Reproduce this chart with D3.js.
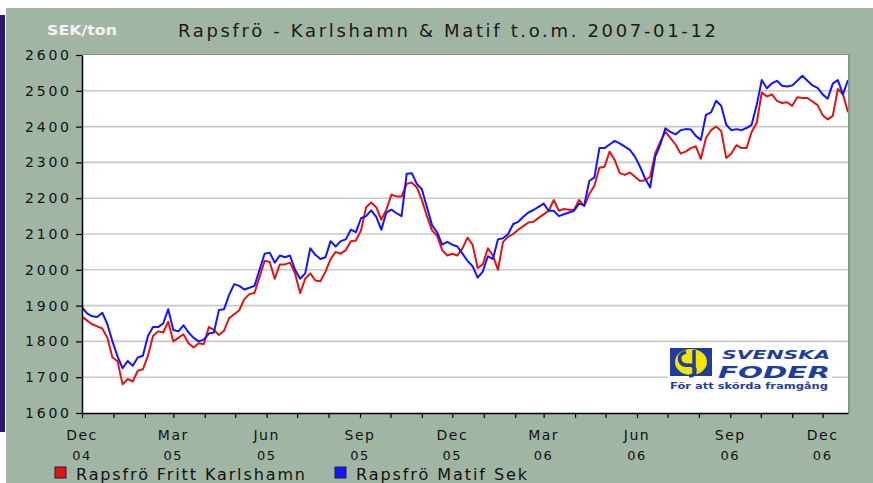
<!DOCTYPE html>
<html><head><meta charset="utf-8">
<script src="https://cdn.jsdelivr.net/npm/d3@7"></script>
<style>html,body{margin:0;padding:0;background:#fff;}svg{display:block;}</style>
</head><body>
<svg id="chart" width="873" height="483"></svg>
<script>
const titleText = "Rapsfrö - Karlshamn & Matif t.o.m. 2007-01-12";
const unitText = "SEK/ton";
const seriesNames = ["Rapsfrö Fritt Karlshamn", "Rapsfrö Matif Sek"];
const yTicks = [1600,1700,1800,1900,2000,2100,2200,2300,2400,2500,2600];
const dates = [
"2004-12-01","2004-12-06","2004-12-11","2004-12-16","2004-12-21","2004-12-26","2004-12-31",
"2005-01-05","2005-01-10","2005-01-15","2005-01-20","2005-01-25","2005-01-30",
"2005-02-04","2005-02-09","2005-02-14","2005-02-19","2005-02-24",
"2005-03-01","2005-03-06","2005-03-11","2005-03-16","2005-03-21","2005-03-26","2005-03-31",
"2005-04-05","2005-04-10","2005-04-15","2005-04-20","2005-04-25","2005-04-30",
"2005-05-05","2005-05-10","2005-05-15","2005-05-20","2005-05-25","2005-05-30",
"2005-06-04","2005-06-09","2005-06-14","2005-06-19","2005-06-24","2005-06-29",
"2005-07-04","2005-07-09","2005-07-14","2005-07-19","2005-07-24","2005-07-29",
"2005-08-03","2005-08-08","2005-08-13","2005-08-18","2005-08-23","2005-08-28",
"2005-09-02","2005-09-07","2005-09-12","2005-09-17","2005-09-22","2005-09-27",
"2005-10-02","2005-10-07","2005-10-12","2005-10-17","2005-10-22","2005-10-27",
"2005-11-01","2005-11-06","2005-11-11","2005-11-16","2005-11-21","2005-11-26",
"2005-12-01","2005-12-06","2005-12-11","2005-12-16","2005-12-21","2005-12-26","2005-12-31",
"2006-01-05","2006-01-10","2006-01-15","2006-01-20","2006-01-25","2006-01-30",
"2006-02-04","2006-02-09","2006-02-14","2006-02-19","2006-02-24",
"2006-03-01","2006-03-06","2006-03-11","2006-03-16","2006-03-21","2006-03-26","2006-03-31",
"2006-04-05","2006-04-10","2006-04-15","2006-04-20","2006-04-25","2006-04-30",
"2006-05-05","2006-05-10","2006-05-15","2006-05-20","2006-05-25","2006-05-30",
"2006-06-04","2006-06-09","2006-06-14","2006-06-19","2006-06-24","2006-06-29",
"2006-07-04","2006-07-09","2006-07-14","2006-07-19","2006-07-24","2006-07-29",
"2006-08-03","2006-08-08","2006-08-13","2006-08-18","2006-08-23","2006-08-28",
"2006-09-02","2006-09-07","2006-09-12","2006-09-17","2006-09-22","2006-09-27",
"2006-10-02","2006-10-07","2006-10-12","2006-10-17","2006-10-22","2006-10-27",
"2006-11-01","2006-11-06","2006-11-11","2006-11-16","2006-11-21","2006-11-26",
"2006-12-01","2006-12-06","2006-12-11","2006-12-16","2006-12-21","2006-12-26"
];
const karlshamn = [
1870,1858,1848,1842,1836,1810,1755,1745,1680,1695,
1688,1718,1722,1760,1815,1828,1825,1855,1800,1810,
1820,1795,1783,1795,1792,1840,1832,1818,1830,1865,
1876,1887,1918,1932,1935,1980,2025,2022,1975,2015,
2015,2020,1990,1935,1975,1990,1970,1968,1995,2030,
2050,2045,2055,2080,2082,2110,2175,2188,2175,2140,
2168,2210,2205,2205,2240,2244,2230,2195,2150,2110,
2095,2055,2040,2045,2040,2060,2090,2070,2005,2015,
2060,2040,2000,2078,2092,2100,2112,2122,2132,2134,
2145,2155,2165,2195,2165,2170,2168,2168,2195,2178,
2212,2235,2285,2288,2330,2307,2270,2265,2272,2260,
2248,2250,2260,2325,2358,2386,2368,2350,2325,2330,
2340,2345,2310,2368,2390,2400,2388,2312,2325,2348,
2340,2340,2385,2410,2495,2484,2490,2472,2466,2468,
2458,2482,2480,2480,2470,2460,2432,2420,2430,2505,
2490,2440
];
const matif = [
1895,1878,1870,1868,1880,1848,1800,1758,1725,1745,
1732,1755,1760,1815,1840,1840,1850,1890,1832,1828,
1845,1825,1810,1800,1805,1822,1825,1888,1890,1930,
1960,1955,1945,1950,1955,2000,2045,2048,2020,2040,
2035,2040,2000,1975,1990,2060,2042,2030,2035,2080,
2065,2080,2085,2112,2105,2144,2150,2166,2148,2112,
2160,2168,2158,2150,2268,2270,2240,2225,2175,2125,
2105,2070,2078,2070,2065,2045,2025,2010,1978,1995,
2038,2030,2085,2088,2100,2128,2134,2148,2160,2167,
2176,2185,2165,2165,2150,2155,2160,2165,2185,2180,
2248,2258,2340,2340,2350,2360,2353,2344,2335,2316,
2288,2255,2230,2316,2350,2395,2385,2378,2390,2393,
2392,2374,2363,2433,2440,2472,2458,2405,2390,2393,
2390,2396,2405,2460,2530,2507,2521,2528,2514,2512,
2515,2528,2542,2528,2515,2508,2490,2478,2520,2530,
2490,2530
];
const colors = ["#e01414", "#1414ff"];

const svg = d3.select("#chart");
const font = "'DejaVu Sans', Verdana, sans-serif";
const L = 82, R = 848, T = 55, B = 413;
const parse = d3.timeParse("%Y-%m-%d");
const xDates = dates.map(parse);

// background panel
svg.append("rect").attr("x",0).attr("y",0).attr("width",873).attr("height",483).attr("fill","#ffffff");
svg.append("rect").attr("x",6).attr("y",8).attr("width",867).attr("height",475).attr("fill","#a1b5a5");
svg.append("rect").attr("x",0).attr("y",15).attr("width",5).attr("height",417).attr("fill","#2c176f");

const x = d3.scaleTime().domain([parse("2004-12-01"), parse("2006-12-26")]).range([L, R]);
const y = d3.scaleLinear().domain([1600, 2600]).range([B, T]);

// plot background with shadow border
svg.append("rect").attr("x",L).attr("y",T-1).attr("width",R-L+2).attr("height",B-T+1).attr("fill","#8a948c");
svg.append("rect").attr("x",L).attr("y",T).attr("width",R-L).attr("height",B-T).attr("fill","#ffffff");

// grid
svg.append("g").selectAll("line").data(yTicks.filter(v => v > 1600 && v < 2600)).join("line")
  .attr("x1",L).attr("x2",R).attr("y1",d=>y(d)).attr("y2",d=>y(d))
  .attr("stroke","#c8c8c8").attr("stroke-width",1.6);

// logo
const logo = svg.append("g");
logo.append("rect").attr("x",668).attr("y",344).attr("width",164).attr("height",48).attr("fill","#ffffff");
logo.append("rect").attr("x",670).attr("y",348).attr("width",42).attr("height",28).attr("fill","#1f3d9e");
logo.append("ellipse").attr("cx",691).attr("cy",362).attr("rx",16).attr("ry",13).attr("fill","#f2e600");
logo.append("path").attr("d","M686,352 q-8,2 -6,9 q2,5 9,4 q6,0 6,6 q0,5 -6,5 M694,350 v26")
  .attr("fill","none").attr("stroke","#1f3d9e").attr("stroke-width",3.5);
logo.append("text").attr("x",722).attr("y",359).attr("textLength",108).attr("lengthAdjust","spacingAndGlyphs")
  .attr("font-family",font).attr("font-size",12).attr("font-weight","bold").attr("font-style","italic")
  .attr("fill","#1f3d9e").text("SVENSKA");
logo.append("text").attr("x",718).attr("y",378).attr("textLength",112).attr("lengthAdjust","spacingAndGlyphs")
  .attr("font-family",font).attr("font-size",15).attr("font-weight","bold").attr("font-style","italic")
  .attr("fill","#1f3d9e").text("FODER");
logo.append("text").attr("x",670).attr("y",389).attr("textLength",158).attr("lengthAdjust","spacingAndGlyphs")
  .attr("font-family",font).attr("font-size",9).attr("font-weight","bold")
  .attr("fill","#1f3d9e").text("För att skörda framgång");

// lines
svg.append("clipPath").attr("id","clip").append("rect")
  .attr("x",L).attr("y",T).attr("width",R-L).attr("height",B-T);
const series = [karlshamn, matif];
const line = d3.line().x((d,i)=>x(xDates[i])).y(d=>y(d));
svg.append("g").attr("clip-path","url(#clip)").selectAll("path").data(series).join("path")
  .attr("d", d=>line(d)).attr("fill","none")
  .attr("stroke",(d,i)=>colors[i]).attr("stroke-width",2).attr("stroke-linejoin","round");

// y axis
const yAxis = svg.append("g").attr("transform",`translate(${L},0)`)
  .call(d3.axisLeft(y).tickValues(yTicks).tickSize(6).tickSizeOuter(0).tickFormat(d3.format("d")));
yAxis.select(".domain").attr("stroke","#000").attr("stroke-width",1.5);
yAxis.selectAll(".tick line").attr("stroke","#000").attr("stroke-width",1.2);
yAxis.selectAll(".tick text").attr("font-family",font).attr("font-size",14).attr("fill","#111")
  .attr("text-anchor","start").attr("x",-57).attr("textLength",44).attr("lengthAdjust","spacing");

// x axis
const xAxis = svg.append("g").attr("transform",`translate(0,${B})`)
  .call(d3.axisBottom(x).ticks(d3.timeMonth.every(1)).tickSize(5).tickSizeOuter(0).tickFormat(""));
xAxis.select(".domain").attr("stroke","#000").attr("stroke-width",1.5);
xAxis.selectAll(".tick line").attr("stroke","#000").attr("stroke-width",1.2);
const labelMonths = x.ticks(d3.timeMonth.every(1)).filter(d => d.getMonth() % 3 === 2);
const xl = svg.append("g");
xl.selectAll("text.m").data(labelMonths).join("text").attr("class","m")
  .attr("x",d=>x(d)).attr("y",440).attr("text-anchor","middle")
  .attr("font-family",font).attr("font-size",14).attr("fill","#111").attr("letter-spacing",1.5)
  .text(d3.timeFormat("%b"));
xl.selectAll("text.yr").data(labelMonths).join("text").attr("class","yr")
  .attr("x",d=>x(d)).attr("y",460).attr("text-anchor","middle")
  .attr("font-family",font).attr("font-size",13).attr("fill","#111").attr("letter-spacing",1.5)
  .text(d3.timeFormat("%y"));

// title + unit
svg.append("text").attr("x",178).attr("y",37).attr("textLength",538).attr("lengthAdjust","spacing")
  .attr("font-family",font).attr("font-size",18).attr("fill","#1a1a1a").text(titleText);
svg.append("text").attr("x",47).attr("y",35).attr("textLength",70).attr("lengthAdjust","spacingAndGlyphs")
  .attr("font-family",font).attr("font-size",14).attr("font-weight","bold").attr("fill","#f4f4f4").text(unitText);

// legend
const legX = [55, 335], legTxt = [76, 356], legW = [229, 171];
const leg = svg.append("g");
seriesNames.forEach((n,i)=>{
  leg.append("rect").attr("x",legX[i]).attr("y",467).attr("width",11).attr("height",11)
    .attr("fill",colors[i]).attr("stroke","#222").attr("stroke-width",1);
  leg.append("text").attr("x",legTxt[i]).attr("y",480).attr("textLength",legW[i]).attr("lengthAdjust","spacing")
    .attr("font-family",font).attr("font-size",16).attr("fill","#111").text(n);
});
</script>
</body></html>
